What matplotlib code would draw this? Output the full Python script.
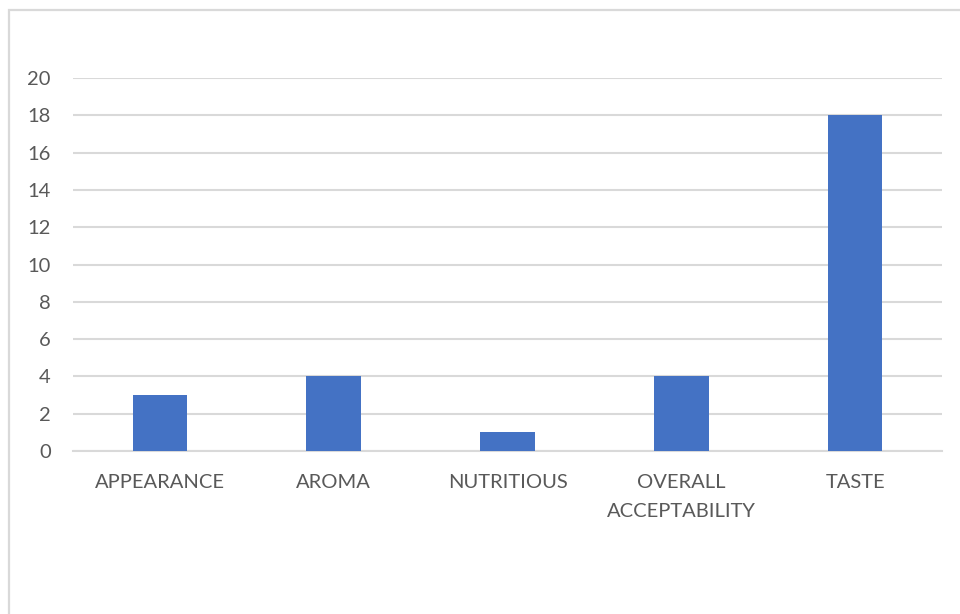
import matplotlib
matplotlib.use('Agg')
import matplotlib.pyplot as plt
from matplotlib.patches import Rectangle

# sensory attributes and number of responses
categories = ['APPEARANCE', 'AROMA', 'NUTRITIOUS', 'OVERALL\nACCEPTABILITY', 'TASTE']
counts = [3, 4, 1, 4, 18]
yticks = [0, 2, 4, 6, 8, 10, 12, 14, 16, 18, 20]

plt.rcParams['font.family'] = ['Lato', 'DejaVu Sans']

fig = plt.figure(figsize=(9.6, 6.14), dpi=100)
ax = fig.add_axes([73/960, 1 - 451/614, (942 - 73)/960, (451 - 78)/614])

x = list(range(len(categories)))
ax.bar(x, counts, width=0.315, color='#4472C4', zorder=3)

ax.set_xlim(-0.5, len(categories) - 0.5)
ax.set_ylim(0, 20)
ax.set_yticks(yticks)
ax.set_xticks(x)
ax.set_xticklabels(categories, linespacing=1.85)

ax.grid(axis='y', color='#d9d9d9', linewidth=1.5, zorder=0)
for s in ['top', 'right', 'left']:
    ax.spines[s].set_visible(False)
ax.spines['bottom'].set_color('#d9d9d9')
ax.spines['bottom'].set_linewidth(1.5)
ax.tick_params(axis='both', length=0, labelsize=14.5, labelcolor='#595959')
ax.tick_params(axis='y', pad=16)
ax.tick_params(axis='x', pad=16.5)

# chart frame, runs off the right and bottom edges
fig.patches.append(Rectangle((8.5/960, -0.1), 1.2, 1 - 9.5/614 + 0.1,
                             transform=fig.transFigure, fill=False,
                             edgecolor='#d9d9d9', linewidth=1.6))

fig.savefig('out.png', dpi=100, facecolor='white')
